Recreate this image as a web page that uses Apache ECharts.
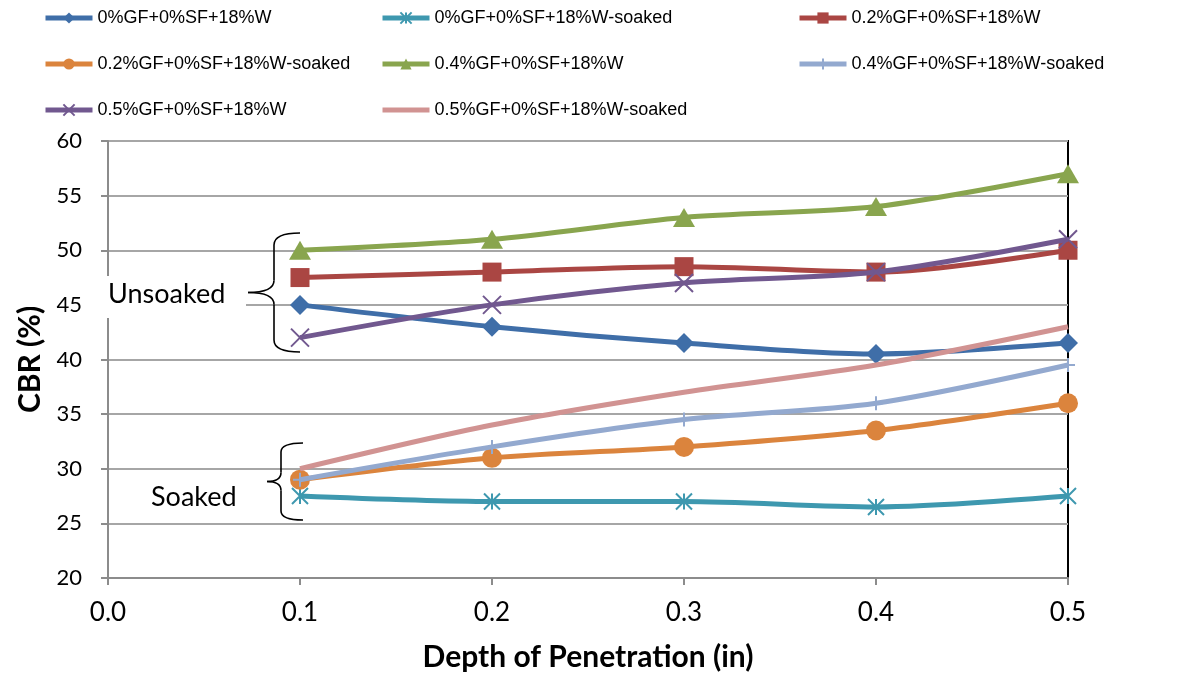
<!DOCTYPE html>
<html><head><meta charset="utf-8">
<script src="https://cdn.jsdelivr.net/npm/echarts@6/dist/echarts.min.js"></script>
<style>html,body{margin:0;padding:0;background:#fff}#c{width:1195px;height:677px}</style>
</head><body><div id="c"></div>
<script>
const depths = [0.1, 0.2, 0.3, 0.4, 0.5];
const seriesNames = [
  '0%GF+0%SF+18%W', '0%GF+0%SF+18%W-soaked', '0.2%GF+0%SF+18%W',
  '0.2%GF+0%SF+18%W-soaked', '0.4%GF+0%SF+18%W', '0.4%GF+0%SF+18%W-soaked',
  '0.5%GF+0%SF+18%W', '0.5%GF+0%SF+18%W-soaked'
];
const gf0 = [45, 43, 41.5, 40.5, 41.5];
const gf0Soaked = [27.5, 27, 27, 26.5, 27.5];
const gf02 = [47.5, 48, 48.5, 48, 50];
const gf02Soaked = [29, 31, 32, 33.5, 36];
const gf04 = [50, 51, 53, 54, 57];
const gf04Soaked = [29, 32, 34.5, 36, 39.5];
const gf05 = [42, 45, 47, 48, 51];
const gf05Soaked = [30, 34, 37, 39.5, 43];
const xTicks = ['0.0', '0.1', '0.2', '0.3', '0.4', '0.5'];
const yTicks = [20, 25, 30, 35, 40, 45, 50, 55, 60];

const allValues = [gf0, gf0Soaked, gf02, gf02Soaked, gf04, gf04Soaked, gf05, gf05Soaked];
const colors = ['#3F6EA8', '#3E98AF', '#AA4643', '#DB843D', '#89A54E', '#93A9CF', '#71588F', '#D19392'];
const symbols = [
  {symbol: 'diamond', size: [20, 20], stroke: false},
  {symbol: 'path://M0,0L10,10M10,0L0,10M5,0L5,10', size: [16, 16], stroke: true},
  {symbol: 'rect', size: [19, 19], stroke: false},
  {symbol: 'circle', size: 20, stroke: false},
  {symbol: 'triangle', size: [22, 19], stroke: false},
  {symbol: 'path://M5,0L5,10M0,5L10,5', size: [14, 14], stroke: true},
  {symbol: 'path://M0,0L10,10M10,0L0,10', size: [18, 18], stroke: true},
  {symbol: 'circle', size: 1, stroke: false, hidden: true}
];

const series = seriesNames.map((name, i) => {
  const s = symbols[i];
  let itemStyle;
  if (s.hidden) itemStyle = {color: 'rgba(0,0,0,0)', borderWidth: 0};
  else if (s.stroke) itemStyle = {color: 'rgba(0,0,0,0)', borderColor: colors[i], borderWidth: 2};
  else itemStyle = {color: colors[i], borderWidth: 0};
  return {
    name: name,
    type: 'line',
    smooth: 0.3,
    data: depths.map((d, j) => [d, allValues[i][j]]),
    symbol: s.symbol,
    symbolSize: s.size,
    showSymbol: !s.hidden,
    lineStyle: {color: colors[i], width: 5},
    itemStyle: itemStyle,
    z: 3 + i
  };
});

const legendBase = {
  orient: 'vertical', top: 9, padding: 0, itemWidth: 47, itemHeight: 14, itemGap: 28,
  lineStyle: {width: 5},
  textStyle: {fontFamily: 'Liberation Sans', fontSize: 18, color: '#000'}
};

function brace(xTip, yTop, yBot, xSpine, xMid, r) {
  const yMid = (yTop + yBot) / 2;
  const st = {fill: 'none', stroke: '#000', lineWidth: 1.6};
  return [
    {type: 'bezierCurve', z: 101, shape: {x1: xTip, y1: yTop, x2: xSpine, y2: yTop + r, cpx1: xSpine, cpy1: yTop}, style: st},
    {type: 'line', z: 101, shape: {x1: xSpine, y1: yTop + r, x2: xSpine, y2: yMid - r}, style: st},
    {type: 'bezierCurve', z: 101, shape: {x1: xSpine, y1: yMid - r, x2: xMid, y2: yMid, cpx1: xSpine, cpy1: yMid}, style: st},
    {type: 'bezierCurve', z: 101, shape: {x1: xMid, y1: yMid, x2: xSpine, y2: yMid + r, cpx1: xSpine, cpy1: yMid}, style: st},
    {type: 'line', z: 101, shape: {x1: xSpine, y1: yMid + r, x2: xSpine, y2: yBot - r}, style: st},
    {type: 'bezierCurve', z: 101, shape: {x1: xSpine, y1: yBot - r, x2: xTip, y2: yBot, cpx1: xSpine, cpy1: yBot}, style: st}
  ];
}

const chart = echarts.init(document.getElementById('c'));
chart.setOption({
  backgroundColor: '#fff',
  animation: false,
  legend: [
    Object.assign({}, legendBase, {left: 43, data: [seriesNames[0], seriesNames[3], seriesNames[6]]}),
    Object.assign({}, legendBase, {left: 380, data: [seriesNames[1], seriesNames[4], seriesNames[7]]}),
    Object.assign({}, legendBase, {left: 797, data: [seriesNames[2], seriesNames[5]]})
  ],
  grid: {left: 108, width: 960, top: 141, height: 439, show: true, borderColor: '#000', borderWidth: 2, backgroundColor: 'transparent'},
  xAxis: {
    type: 'value', min: 0, max: 0.5, interval: 0.1,
    name: 'Depth of Penetration (in)', nameLocation: 'middle', nameGap: 64,
    nameTextStyle: {fontFamily: 'Lato', fontWeight: 'bold', fontSize: 30, color: '#000'},
    axisLine: {show: true, lineStyle: {color: '#8c8c8c', width: 2}},
    axisTick: {show: true, length: 7, lineStyle: {color: '#8c8c8c', width: 2}},
    axisLabel: {fontFamily: 'Lato', fontSize: 26, color: '#000', margin: 22,
      formatter: v => xTicks[Math.round(v * 10)]},
    splitLine: {show: false}
  },
  yAxis: {
    type: 'value', min: yTicks[0], max: yTicks[yTicks.length - 1], interval: 5,
    name: 'CBR (%)', nameLocation: 'middle', nameGap: 63,
    nameTextStyle: {fontFamily: 'Lato', fontWeight: 'bold', fontSize: 30, color: '#000'},
    axisLine: {show: true, lineStyle: {color: '#8c8c8c', width: 2}},
    axisTick: {show: true, length: 7, lineStyle: {color: '#8c8c8c', width: 2}},
    axisLabel: {fontFamily: 'Lato', fontSize: 22, color: '#000', margin: 26},
    splitLine: {show: true, lineStyle: {color: '#a6a6a6', width: 2}}
  },
  series: series,
  graphic: [
    {type: 'rect', z: 100, shape: {x: 100, y: 276, width: 146, height: 42}, style: {fill: '#fff'}},
    {type: 'text', z: 101, left: 108, top: 281, style: {text: 'Unsoaked', font: '27px Lato', fill: '#000'}},
    {type: 'text', z: 101, left: 151, top: 484, style: {text: 'Soaked', font: '27px Lato', fill: '#000'}}
  ].concat(brace(300, 233, 352, 274, 248, 12)).concat(brace(303, 443, 520, 281, 267, 9))
});
</script></body></html>
